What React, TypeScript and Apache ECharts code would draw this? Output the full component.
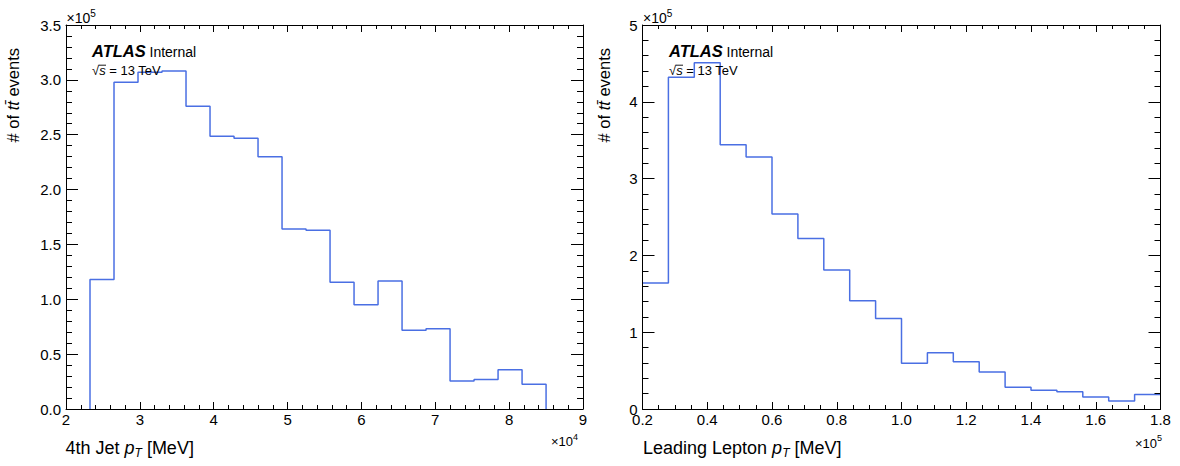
import React, { useEffect, useRef } from 'react';
import * as echarts from 'echarts';

// ---- data ----
// 4th jet pT histogram: bin edges (MeV) and number of ttbar events per bin
const jetEdges = [20000, 23250, 26500, 29750, 33000, 36250, 39500, 42750, 46000, 49250, 52500, 55750, 59000, 62250, 65500, 68750, 72000, 75250, 78500, 81750, 85000];
const jetCounts = [0, 118000, 297800, 307000, 308000, 276000, 248600, 246800, 230000, 164000, 163000, 115500, 95100, 116700, 71700, 73200, 25500, 27000, 35800, 22500];

// Leading lepton pT histogram: bin edges (MeV) and number of ttbar events per bin
const lepEdges = [20000, 28000, 36000, 44000, 52000, 60000, 68000, 76000, 84000, 92000, 100000, 108000, 116000, 124000, 132000, 140000, 148000, 156000, 164000, 172000, 180000];
const lepCounts = [164000, 432000, 451000, 344000, 328000, 254000, 222000, 181000, 141000, 118000, 59500, 73300, 61600, 48200, 28300, 24300, 22500, 15600, 10400, 19000];

// axis ranges [min, max, interval]
const jetXRange = [20000, 90000, 10000];
const jetYRange = [0, 350000, 50000];
const lepXRange = [20000, 180000, 20000];
const lepYRange = [0, 500000, 100000];

// texts
const yTitle = '# of {i|tt\u0304} events';
const jetXTitle = '4th Jet {i|p}{s|T} [MeV]';
const lepXTitle = 'Leading Lepton {i|p}{s|T} [MeV]';

const FONT = '"Liberation Sans", Arial, Helvetica, sans-serif';
const HIST_COLOR = '#4a6fe3';

// step outline of a histogram; vertical edges lying on the frame are left out
function histPoints(edges: number[], counts: number[], xmin: number, xmax: number) {
  let k = 0;
  while (k < counts.length && counts[k] === 0) k++;
  const n = counts.length;
  const pts: number[][] = [];
  if (edges[k] > xmin) pts.push([edges[k], 0]);
  for (let i = k; i < n; i++) pts.push([edges[i], counts[i]]);
  pts.push([edges[n], counts[n - 1]]);
  if (edges[n] < xmax) pts.push([edges[n], 0]);
  return pts;
}

function axis(
  range: number[],
  gridIndex: number,
  position: string,
  minorSplit: number,
  majorLen: number,
  minorLen: number,
  showLabel: boolean,
  formatter: (v: number) => string,
  margin: number
) {
  return {
    type: 'value',
    gridIndex,
    position,
    min: range[0],
    max: range[1],
    interval: range[2],
    z: 10,
    axisLine: { show: true, onZero: false, lineStyle: { color: '#000', width: 1 } },
    axisTick: { show: true, inside: true, length: majorLen, lineStyle: { color: '#000', width: 1 } },
    minorTick: { show: true, splitNumber: minorSplit, length: minorLen, lineStyle: { color: '#000', width: 1 } },
    splitLine: { show: false },
    minorSplitLine: { show: false },
    axisLabel: {
      show: showLabel,
      color: '#000',
      fontSize: 15,
      fontFamily: FONT,
      margin,
      formatter,
    },
  };
}

function sciLabel(x: number, y: number, exp: string, align: string, size: number) {
  const small = Math.round(size * 0.7);
  return {
    type: 'text',
    x,
    y,
    z: 20,
    style: {
      text: `{m|×10}{e|${exp}}`,
      align,
      verticalAlign: 'middle',
      fill: '#000',
      rich: {
        m: { fontSize: size, lineHeight: size + 6, fontFamily: FONT, fill: '#000', color: '#000' },
        e: { fontSize: small, lineHeight: small, verticalAlign: 'top', fontFamily: FONT, fill: '#000', color: '#000' },
      },
    },
  };
}

function atlasLabel(x0: number) {
  return [
    {
      type: 'text', x: x0, y: 51.2, z: 20,
      style: { text: 'ATLAS', fontSize: 16.5, fontWeight: 'bold', fontStyle: 'italic', fontFamily: FONT, fill: '#000', align: 'left', verticalAlign: 'middle' },
    },
    {
      type: 'text', x: x0 + 57.5, y: 52.4, z: 20,
      style: { text: 'Internal', fontSize: 14, fontFamily: FONT, fill: '#000', align: 'left', verticalAlign: 'middle' },
    },
    {
      type: 'text', x: x0, y: 70.5, z: 20,
      style: {
        text: '{r|√}{s|s} = 13 TeV', fontSize: 13, fontFamily: FONT, fill: '#000', align: 'left', verticalAlign: 'middle',
        rich: {
          r: { fontSize: 13, fontFamily: FONT, fill: '#000' },
          s: { fontSize: 13, fontStyle: 'italic', fontFamily: FONT, fill: '#000' },
        },
      },
    },
    {
      type: 'line', z: 20,
      shape: { x1: x0 + 6.8, y1: 65.2, x2: x0 + 14, y2: 65.2 },
      style: { stroke: '#000', lineWidth: 0.9 },
    },
  ];
}

function yTitleEl(x: number) {
  return {
    type: 'text', x, y: 48, rotation: Math.PI / 2, z: 20,
    style: {
      text: yTitle, fontSize: 16.5, fontFamily: FONT, fill: '#000', align: 'right', verticalAlign: 'middle',
      rich: { i: { fontSize: 16.5, fontStyle: 'italic', fontFamily: FONT, fill: '#000' } },
    },
  };
}

function xTitleEl(x: number, text: string) {
  return {
    type: 'text', x, y: 448, z: 20,
    style: {
      text, fontSize: 18, lineHeight: 22, fontFamily: FONT, fill: '#000', align: 'left', verticalAlign: 'middle',
      rich: {
        i: { fontSize: 18, lineHeight: 22, fontStyle: 'italic', fontFamily: FONT, fill: '#000' },
        s: { fontSize: 12, lineHeight: 12, fontStyle: 'italic', verticalAlign: 'bottom', fontFamily: FONT, fill: '#000' },
      },
    },
  };
}

export default function App() {
  const ref = useRef<HTMLDivElement>(null);

  useEffect(() => {
    if (!ref.current) return;
    const chart = echarts.init(ref.current, undefined, { renderer: 'svg' });
    const none = () => '';
    const f1e5fixed = (v: number) => (v / 1e5).toFixed(1);
    const f1e4 = (v: number) => String(v / 1e4);
    const f1e5 = (v: number) => String(v / 1e5);

    chart.setOption({
      animation: false,
      backgroundColor: '#fff',
      textStyle: { fontFamily: FONT },
      grid: [
        { left: 66, top: 25, width: 517, height: 384 },
        { left: 642.5, top: 25, width: 518, height: 384 },
      ],
      xAxis: [
        axis(jetXRange, 0, 'bottom', 5, 7, 4, true, f1e4, 3),
        axis(jetXRange, 0, 'top', 5, 7, 4, false, none, 3),
        axis(lepXRange, 1, 'bottom', 4, 7, 4, true, f1e5fixed, 3),
        axis(lepXRange, 1, 'top', 4, 7, 4, false, none, 3),
      ],
      yAxis: [
        axis(jetYRange, 0, 'left', 5, 12, 6, true, f1e5fixed, 5),
        axis(jetYRange, 0, 'right', 5, 12, 6, false, none, 5),
        axis(lepYRange, 1, 'left', 5, 12, 6, true, f1e5, 5),
        axis(lepYRange, 1, 'right', 5, 12, 6, false, none, 5),
      ],
      series: [
        {
          type: 'line', xAxisIndex: 0, yAxisIndex: 0, step: 'end', symbol: 'none', z: 2,
          lineStyle: { color: HIST_COLOR, width: 1.5 },
          data: histPoints(jetEdges, jetCounts, jetXRange[0], jetXRange[1]),
        },
        {
          type: 'line', xAxisIndex: 2, yAxisIndex: 2, step: 'end', symbol: 'none', z: 2,
          lineStyle: { color: HIST_COLOR, width: 1.5 },
          data: histPoints(lepEdges, lepCounts, lepXRange[0], lepXRange[1]),
        },
      ],
      graphic: [
        sciLabel(66.5, 18, '5', 'left', 14),
        sciLabel(578, 441.5, '4', 'right', 13),
        sciLabel(643, 18, '5', 'left', 14),
        sciLabel(1162, 443, '5', 'right', 13),
        yTitleEl(12.5),
        yTitleEl(604),
        xTitleEl(65.5, jetXTitle),
        xTitleEl(643, lepXTitle),
        ...atlasLabel(92),
        ...atlasLabel(669),
      ],
    });
    return () => chart.dispose();
  }, []);

  return (
    <div
      ref={ref}
      style={{ position: 'absolute', left: 0, top: 0, width: 1180, height: 466, background: '#fff' }}
    />
  );
}
